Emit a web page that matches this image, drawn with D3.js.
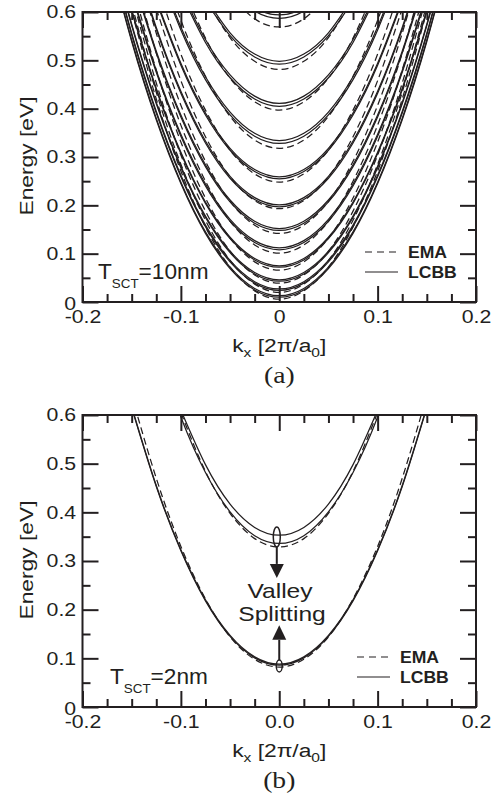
<!DOCTYPE html>
<html>
<head>
<meta charset="utf-8">
<script src="https://cdn.jsdelivr.net/npm/d3@7"></script>
<style>
body { margin: 0; background: #fff; }
svg { display: block; }
text { font-family: "Liberation Sans", Arial, sans-serif; fill: #231f20; }
</style>
</head>
<body>
<svg id="chart" width="500" height="797"></svg>
<script>
// k grid (units of 2pi/a0), curves are symmetric so only k >= 0 is stored
var kGrid = [0, 0.025, 0.05, 0.075, 0.1, 0.125, 0.15, 0.175];

var xTickValues = [-0.2, -0.1, 0, 0.1, 0.2];
var xTickLabelsA = ["-0.2", "-0.1", "0", "0.1", "0.2"];
var xTickLabelsB = ["-0.2", "-0.1", "0.0", "0.1", "0.2"];
var xMinorTicks = [-0.175, -0.15, -0.125, -0.075, -0.05, -0.025, 0.025, 0.05, 0.075, 0.125, 0.15, 0.175];
var yTickValues = [0, 0.1, 0.2, 0.3, 0.4, 0.5, 0.6];
var yTickLabels = ["0", "0.1", "0.2", "0.3", "0.4", "0.5", "0.6"];
var yMinorTicks = [0.05, 0.15, 0.25, 0.35, 0.45, 0.55];

// (a) T_SCT = 10nm, LCBB subbands (valley-split pairs), energy [eV] at kGrid
var lcbbA = [
    [0.010, 0.025, 0.069, 0.142, 0.245, 0.377, 0.539, 0.730],
    [0.013, 0.028, 0.072, 0.145, 0.248, 0.380, 0.542, 0.733],
    [0.024, 0.039, 0.083, 0.156, 0.259, 0.391, 0.553, 0.744],
    [0.027, 0.042, 0.086, 0.159, 0.262, 0.394, 0.556, 0.747],
    [0.043, 0.058, 0.102, 0.175, 0.278, 0.410, 0.572, 0.763],
    [0.046, 0.061, 0.105, 0.178, 0.281, 0.413, 0.575, 0.766],
    [0.072, 0.087, 0.131, 0.204, 0.307, 0.439, 0.601],
    [0.075, 0.090, 0.134, 0.207, 0.310, 0.442, 0.604],
    [0.108, 0.123, 0.167, 0.240, 0.343, 0.475, 0.637],
    [0.112, 0.127, 0.171, 0.244, 0.347, 0.479, 0.641],
    [0.148, 0.163, 0.207, 0.280, 0.383, 0.515, 0.677],
    [0.152, 0.167, 0.211, 0.284, 0.387, 0.519, 0.681],
    [0.197, 0.212, 0.256, 0.329, 0.432, 0.564, 0.726],
    [0.201, 0.216, 0.260, 0.333, 0.436, 0.568, 0.730],
    [0.255, 0.270, 0.314, 0.387, 0.490, 0.622],
    [0.259, 0.274, 0.318, 0.391, 0.494, 0.626],
    [0.328, 0.343, 0.387, 0.460, 0.563, 0.695],
    [0.334, 0.349, 0.393, 0.466, 0.569, 0.701],
    [0.405, 0.420, 0.464, 0.537, 0.640],
    [0.411, 0.426, 0.470, 0.543, 0.646],
    [0.492, 0.507, 0.551, 0.624],
    [0.498, 0.513, 0.557, 0.630],
    [0.587, 0.602, 0.646],
    [0.594, 0.609, 0.653]
];

// (a) EMA subbands
var emaA = [
    [0.006, 0.023, 0.072, 0.155, 0.271, 0.420, 0.602],
    [0.020, 0.037, 0.086, 0.169, 0.285, 0.434, 0.616],
    [0.039, 0.056, 0.105, 0.188, 0.304, 0.453, 0.635],
    [0.066, 0.083, 0.132, 0.215, 0.331, 0.480, 0.662],
    [0.101, 0.118, 0.167, 0.250, 0.366, 0.515, 0.697],
    [0.142, 0.159, 0.208, 0.291, 0.407, 0.556, 0.738],
    [0.193, 0.210, 0.259, 0.342, 0.458, 0.607],
    [0.248, 0.265, 0.314, 0.397, 0.513, 0.662],
    [0.318, 0.335, 0.384, 0.467, 0.583, 0.732],
    [0.397, 0.414, 0.463, 0.546, 0.662],
    [0.481, 0.498, 0.547, 0.630],
    [0.569, 0.586, 0.635]
];

// (b) T_SCT = 2nm
var lcbbB = [
    [0.086, 0.101, 0.145, 0.218, 0.321, 0.453, 0.615],
    [0.088, 0.103, 0.147, 0.220, 0.323, 0.455, 0.617],
    [0.336, 0.352, 0.401, 0.482, 0.596, 0.742],
    [0.353, 0.369, 0.417, 0.498, 0.610]
];
var emaB = [
    [0.082, 0.098, 0.144, 0.222, 0.330, 0.470, 0.640],
    [0.329, 0.346, 0.398, 0.484, 0.605]
];

var svg = d3.select("#chart");

function mirror(vals) {
    var pts = [];
    for (var i = vals.length - 1; i > 0; i--) pts.push({ k: -kGrid[i], e: vals[i] });
    for (var j = 0; j < vals.length; j++) pts.push({ k: kGrid[j], e: vals[j] });
    return pts;
}

// stretched text helper (reference glyphs are a bit wide)
function label(parent, x, y, sx, size) {
    return parent.append("text")
        .attr("transform", "translate(" + x + "," + y + ") scale(" + sx + ",1)")
        .style("font-size", size + "px");
}

function drawPanel(opt) {
    var x = d3.scaleLinear().domain([-0.2, 0.2]).range([82.5, 476]);
    var y = d3.scaleLinear().domain([0, 0.6]).range([opt.bottom, opt.top]);
    var g = svg.append("g");

    g.append("clipPath").attr("id", "clip-" + opt.name)
        .append("rect")
        .attr("x", x(-0.2)).attr("y", y(0.6))
        .attr("width", x(0.2) - x(-0.2)).attr("height", y(0) - y(0.6));

    var line = d3.line()
        .x(function(d) { return x(d.k); })
        .y(function(d) { return y(d.e); })
        .curve(d3.curveNatural);

    var curves = g.append("g").attr("clip-path", "url(#clip-" + opt.name + ")");
    opt.ema.forEach(function(vals) {
        curves.append("path")
            .datum(mirror(vals))
            .attr("fill", "none")
            .attr("stroke", "#231f20")
            .attr("stroke-width", 1.25)
            .attr("stroke-dasharray", "7,4")
            .attr("d", line);
    });
    opt.lcbb.forEach(function(vals) {
        curves.append("path")
            .datum(mirror(vals))
            .attr("fill", "none")
            .attr("stroke", "#231f20")
            .attr("stroke-width", 1.25)
            .attr("d", line);
    });

    // axes, ticks pointing inward on all four sides
    function styleAxis(sel) {
        sel.select(".domain").remove();
        sel.selectAll("line").attr("stroke", "#231f20").attr("stroke-width", 2);
        sel.selectAll("text")
            .attr("fill", "#231f20")
            .style("font-family", "'Liberation Sans', Arial, sans-serif")
            .style("font-size", "18.5px");
    }
    var bottomY = y(0), topY = y(0.6);

    g.append("g").attr("transform", "translate(0," + bottomY + ")")
        .call(d3.axisBottom(x).tickValues(xTickValues).tickSizeInner(-16).tickSizeOuter(0).tickPadding(8)
            .tickFormat(function(d, i) { return opt.xLabels[i]; }))
        .call(styleAxis)
        .selectAll("text").attr("transform", "scale(1.15,1)");
    g.append("g").attr("transform", "translate(0," + bottomY + ")")
        .call(d3.axisBottom(x).tickValues(xMinorTicks).tickSizeInner(-8).tickSizeOuter(0).tickFormat(""))
        .call(styleAxis);
    g.append("g").attr("transform", "translate(0," + topY + ")")
        .call(d3.axisTop(x).tickValues(xTickValues).tickSizeInner(-16).tickSizeOuter(0).tickFormat(""))
        .call(styleAxis);
    g.append("g").attr("transform", "translate(0," + topY + ")")
        .call(d3.axisTop(x).tickValues(xMinorTicks).tickSizeInner(-8).tickSizeOuter(0).tickFormat(""))
        .call(styleAxis);

    var leftAx = g.append("g").attr("transform", "translate(" + x(-0.2) + ",0)")
        .call(d3.axisLeft(y).tickValues(yTickValues).tickSizeInner(-16).tickSizeOuter(0).tickPadding(5.5)
            .tickFormat(function(d, i) { return yTickLabels[i]; }))
        .call(styleAxis);
    leftAx.selectAll("text").attr("transform", "scale(1.15,1)");
    leftAx.selectAll(".tick").filter(function(d) { return d === 0; }).select("text").attr("dy", "0.4em");
    g.append("g").attr("transform", "translate(" + x(-0.2) + ",0)")
        .call(d3.axisLeft(y).tickValues(yMinorTicks).tickSizeInner(-8).tickSizeOuter(0).tickFormat(""))
        .call(styleAxis);
    g.append("g").attr("transform", "translate(" + x(0.2) + ",0)")
        .call(d3.axisRight(y).tickValues(yTickValues).tickSizeInner(-16).tickSizeOuter(0).tickFormat(""))
        .call(styleAxis);
    g.append("g").attr("transform", "translate(" + x(0.2) + ",0)")
        .call(d3.axisRight(y).tickValues(yMinorTicks).tickSizeInner(-8).tickSizeOuter(0).tickFormat(""))
        .call(styleAxis);

    // frame
    g.append("rect")
        .attr("x", x(-0.2)).attr("y", topY)
        .attr("width", x(0.2) - x(-0.2)).attr("height", bottomY - topY)
        .attr("fill", "none").attr("stroke", "#231f20").attr("stroke-width", 2);

    // axis titles
    label(g, 33, (topY + bottomY) / 2, 1, 19)
        .attr("transform", "translate(33," + ((topY + bottomY) / 2 - 1) + ") rotate(-90) scale(1.2,1)")
        .attr("text-anchor", "middle")
        .text("Energy [eV]");

    var xl = label(g, x(0), bottomY + 50, 1.2, 19).attr("text-anchor", "middle");
    xl.append("tspan").text("k");
    xl.append("tspan").attr("dy", 5).style("font-size", "13px").text("x");
    xl.append("tspan").attr("dy", -5).text(" [2\u03c0/a");
    xl.append("tspan").attr("dy", 5).style("font-size", "13px").text("0");
    xl.append("tspan").attr("dy", -5).text("]");

    label(g, x(0), bottomY + 81, 1.15, 24)
        .attr("text-anchor", "middle")
        .style("font-family", "'Liberation Serif', 'Times New Roman', serif")
        .text(opt.tag);

    // thickness annotation
    var ts = label(g, opt.tX, bottomY - 23, 1.03, 22);
    ts.append("tspan").text("T");
    ts.append("tspan").attr("dy", 9).style("font-size", "13px").text("SCT");
    ts.append("tspan").attr("dy", -9).text(opt.tText);

    // legend
    var lg = g.append("g");
    lg.append("line")
        .attr("x1", opt.legX).attr("x2", opt.legX + 33)
        .attr("y1", opt.legY).attr("y2", opt.legY)
        .attr("stroke", "#231f20").attr("stroke-width", 1.2).attr("stroke-dasharray", "7,5");
    lg.append("line")
        .attr("x1", opt.legX).attr("x2", opt.legX + 33)
        .attr("y1", opt.legY + 20).attr("y2", opt.legY + 20)
        .attr("stroke", "#231f20").attr("stroke-width", 1.2);
    label(lg, opt.legX + 43, opt.legY + 6, 1.1, 16).style("font-weight", "bold").text("EMA");
    label(lg, opt.legX + 43, opt.legY + 26, 1.1, 16).style("font-weight", "bold").text("LCBB");

    if (opt.annotate) opt.annotate(g, x, y);
}

drawPanel({
    name: "a", top: 12, bottom: 302,
    lcbb: lcbbA, ema: emaA,
    xLabels: xTickLabelsA, tag: "(a)",
    tX: 98, tText: "=10nm",
    legX: 365, legY: 252
});

drawPanel({
    name: "b", top: 415, bottom: 707,
    lcbb: lcbbB, ema: emaB,
    xLabels: xTickLabelsB, tag: "(b)",
    tX: 110, tText: "=2nm",
    legX: 357, legY: 657,
    annotate: function(g, x, y) {
        var ink = "#231f20";
        // upper valley pair
        var xu = x(-0.0025);
        g.append("ellipse")
            .attr("cx", xu).attr("cy", (y(0.329) + y(0.370)) / 2)
            .attr("rx", 3.5).attr("ry", (y(0.329) - y(0.370)) / 2)
            .attr("fill", "none").attr("stroke", ink).attr("stroke-width", 1.5);
        g.append("line")
            .attr("x1", xu).attr("x2", xu).attr("y1", y(0.329)).attr("y2", y(0.294))
            .attr("stroke", ink).attr("stroke-width", 2);
        g.append("path")
            .attr("d", "M" + (xu - 7) + "," + y(0.294) + "L" + (xu + 7) + "," + y(0.294) + "L" + xu + "," + y(0.265) + "Z")
            .attr("fill", ink);
        // lower valley pair
        var xd = x(0);
        g.append("ellipse")
            .attr("cx", xd).attr("cy", (y(0.0965) + y(0.072)) / 2)
            .attr("rx", 3).attr("ry", (y(0.072) - y(0.0965)) / 2)
            .attr("fill", "none").attr("stroke", ink).attr("stroke-width", 1.5);
        g.append("line")
            .attr("x1", xd).attr("x2", xd).attr("y1", y(0.0965)).attr("y2", y(0.138))
            .attr("stroke", ink).attr("stroke-width", 2);
        g.append("path")
            .attr("d", "M" + (xd - 7) + "," + y(0.138) + "L" + (xd + 7) + "," + y(0.138) + "L" + xd + "," + y(0.168) + "Z")
            .attr("fill", ink);

        label(g, 280, 598, 1.2, 20.5).attr("text-anchor", "middle").text("Valley");
        label(g, 282, 621, 1.2, 20.5).attr("text-anchor", "middle").text("Splitting");
    }
});
</script>
</body>
</html>
